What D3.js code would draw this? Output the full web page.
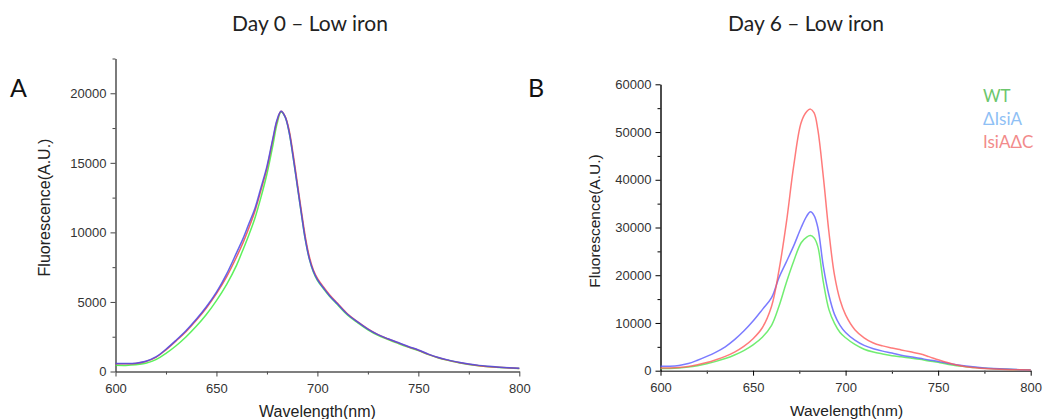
<!DOCTYPE html>
<html><head><meta charset="utf-8">
<script src="https://cdn.jsdelivr.net/npm/d3@7"></script>
<style>
html,body{margin:0;padding:0;background:#fff;}
svg{display:block;}
</style></head><body>
<svg id="chart" width="1044" height="419"></svg>
<script>
// ---------- Panel A data (Day 0) ----------
const wlA = [600,605,610,615,620,625,630,635,640,645,650,655,660,663,666,669,672,675,678,680,682,684,686,688,690,692,694,696,698,700,703,706,710,715,720,725,730,735,740,745,750,755,760,765,770,775,780,785,790,795,800];
const wtA   = [450,440,480,590,850,1300,1850,2500,3250,4100,5100,6250,7650,8700,9800,11000,12500,14200,16300,17800,18650,18300,17200,15400,13400,11400,9500,8100,7150,6550,5950,5400,4800,4050,3500,3000,2600,2300,2020,1750,1500,1210,970,790,630,510,410,340,290,250,210];
const isiCA = [560,550,580,720,1020,1560,2200,2880,3680,4570,5600,6800,8250,9200,10300,11500,13000,14600,16700,18000,18700,18350,17350,15600,13600,11600,9700,8250,7300,6700,6080,5520,4900,4130,3570,3060,2650,2340,2060,1780,1530,1230,990,800,640,520,420,350,300,260,220];
const delA  = [580,570,600,740,1050,1600,2250,2950,3750,4650,5700,7000,8550,9500,10600,11700,13200,14750,16800,18100,18700,18300,17200,15400,13400,11400,9500,8100,7200,6600,6000,5450,4850,4100,3550,3050,2650,2350,2080,1800,1550,1250,1000,820,660,540,440,370,310,270,240];

// ---------- Panel B data (Day 6) ----------
const wlB = [600,605,610,615,620,625,630,635,640,645,650,655,660,664,668,672,676,679,681,683,685,688,691,694,697,700,705,710,715,720,725,730,735,740,745,750,755,760,765,770,775,780,790,800];
const wtB   = [450,460,560,750,1050,1450,1950,2550,3300,4200,5400,7000,9500,13500,18500,23000,26800,28000,28300,27800,26000,18500,12800,9900,8000,6900,5500,4500,3900,3500,3150,2900,2650,2400,2050,1750,1350,1050,850,650,500,400,250,130];
const delB  = [950,950,1100,1500,2200,3000,3900,5000,6500,8300,10400,12800,15300,19500,22800,26200,30000,32400,33300,32500,30000,21800,15800,11800,9500,8000,6400,5300,4600,4100,3700,3250,2900,2600,2250,1950,1550,1250,980,760,590,470,280,150];
const isiCB = [550,560,680,900,1250,1700,2300,3000,3900,5100,6700,9000,13500,21000,31000,43000,52000,54300,54800,54000,50500,40500,29000,20000,14800,11700,8600,6900,5800,5200,4750,4350,3950,3550,2950,2300,1700,1200,850,620,450,350,220,150];

// ---------- ticks / labels ----------
const xMajor = [600,650,700,750,800];
const xMinor = [625,675,725,775];
const yMajorA = [0,5000,10000,15000,20000];
const yMinorA = [2500,7500,12500,17500,22500];
const yMajorB = [0,10000,20000,30000,40000,50000,60000];
const yMinorB = [5000,15000,25000,35000,45000,55000];
const titles = ["Day 0 \u2013 Low iron","Day 6 \u2013 Low iron"];
const panelLetters = ["A","B"];
const xTitle = "Wavelength(nm)";
const yTitle = "Fluorescence(A.U.)";
const seriesNames = ["WT","\u0394IsiA","IsiA\u0394C"];

const svg = d3.select("#chart");
const tickFont = "'Liberation Sans', Arial, sans-serif";
const titleFont = "Lato, 'Open Sans', sans-serif";

function drawPanel(cfg){
  const g = svg.append("g");
  const x = d3.scaleLinear().domain([600,800]).range(cfg.xr);
  const y = d3.scaleLinear().domain(cfg.yd).range(cfg.yr);

  // minor ticks
  const xm = g.append("g").attr("transform",`translate(0,${cfg.yr[0]})`)
    .call(d3.axisBottom(x).tickValues(xMinor).tickSize(3).tickFormat(""));
  const ym = g.append("g").attr("transform",`translate(${cfg.xr[0]},0)`)
    .call(d3.axisLeft(y).tickValues(cfg.yMinor).tickSize(3).tickFormat(""));
  [xm,ym].forEach(a=>{a.select(".domain").remove(); a.selectAll("line").attr("stroke",cfg.axisCol).attr("stroke-width",1);});

  // major
  const xa = g.append("g").attr("transform",`translate(0,${cfg.yr[0]})`)
    .call(d3.axisBottom(x).tickValues(xMajor).tickSize(5).tickSizeOuter(0).tickPadding(7).tickFormat(d3.format("d")));
  const ya = g.append("g").attr("transform",`translate(${cfg.xr[0]},0)`)
    .call(d3.axisLeft(y).tickValues(cfg.yMajor).tickSize(5).tickSizeOuter(0).tickPadding(4).tickFormat(d3.format("d")));
  xa.select(".domain").attr("stroke",cfg.xAxisCol).attr("stroke-width",1.4);
  ya.select(".domain").attr("stroke",cfg.axisCol).attr("stroke-width",1.4);
  [xa,ya].forEach(a=>{
    a.selectAll("line").attr("stroke",cfg.axisCol).attr("stroke-width",1);
    a.selectAll("text").attr("font-family",tickFont).attr("font-size",13).attr("fill","#333");
  });

  // curves
  const line = d3.line().x(d=>x(d[0])).y(d=>y(d[1])).curve(d3.curveCatmullRom.alpha(0.5));
  cfg.series.forEach(s=>{
    const pts = cfg.wl.map((w,i)=>[w,s.values[i]]);
    g.append("path").datum(pts).attr("d",line)
      .attr("fill","none").attr("stroke",s.color).attr("stroke-width",1.5)
      .attr("stroke-linejoin","round").attr("stroke-opacity",s.op);
  });

  // titles
  svg.append("text").attr("x",cfg.titleX).attr("y",31).attr("text-anchor","middle")
    .attr("font-family",titleFont).attr("font-size",21).attr("fill","#222").text(cfg.title);
  svg.append("text").attr("x",cfg.letterX).attr("y",97)
    .attr("font-family",titleFont).attr("font-size",25).attr("fill","#111").text(cfg.letter);
  svg.append("text").attr("x",cfg.xlabX).attr("y",cfg.xlabY).attr("text-anchor","middle")
    .attr("font-family",tickFont).attr("font-size",cfg.labFs).attr("fill","#222").text(xTitle);
  svg.append("text").attr("transform",`translate(${cfg.ylabX},${cfg.ylabY}) rotate(-90)`)
    .attr("text-anchor","middle").attr("dominant-baseline","central")
    .attr("font-family",tickFont).attr("font-size",cfg.labFs).attr("fill","#222").text(yTitle);
  return {x,y};
}

drawPanel({
  xr:[115.5,519.3], yd:[0,22500], yr:[371.5,58.5],
  yMajor:yMajorA, yMinor:yMinorA, axisCol:"#444", xAxisCol:"#555",
  wl:wlA,
  series:[
    {values:wtA,color:"#3fee3f",op:0.85},
    {values:isiCA,color:"#ee4a4a",op:0.85},
    {values:delA,color:"#4a4ae8",op:0.85}
  ],
  title:titles[0], titleX:310, letter:panelLetters[0], letterX:10,
  xlabX:317.5, xlabY:417, ylabX:44, ylabY:207.5, labFs:16
});

drawPanel({
  xr:[660.5,1030.7], yd:[0,60000], yr:[370.7,84.3],
  yMajor:yMajorB, yMinor:yMinorB, axisCol:"#000", xAxisCol:"#555",
  wl:wlB,
  series:[
    {values:wtB,color:"#4ee84e",op:0.8},
    {values:delB,color:"#5a5aff",op:0.8},
    {values:isiCB,color:"#ff5a5a",op:0.8}
  ],
  title:titles[1], titleX:806, letter:panelLetters[1], letterX:528,
  xlabX:846.5, xlabY:416, ylabX:594, ylabY:221, labFs:15.5
});

// legend
const legCols = ["#6cc66c","#8fc0f5","#f28b8b"];
const legY = [102,125,148];
seriesNames.forEach((n,i)=>{
  svg.append("text").attr("x",983).attr("y",legY[i])
    .attr("font-family",titleFont).attr("font-size",17).attr("fill",legCols[i]).text(n);
});
</script>
</body></html>
